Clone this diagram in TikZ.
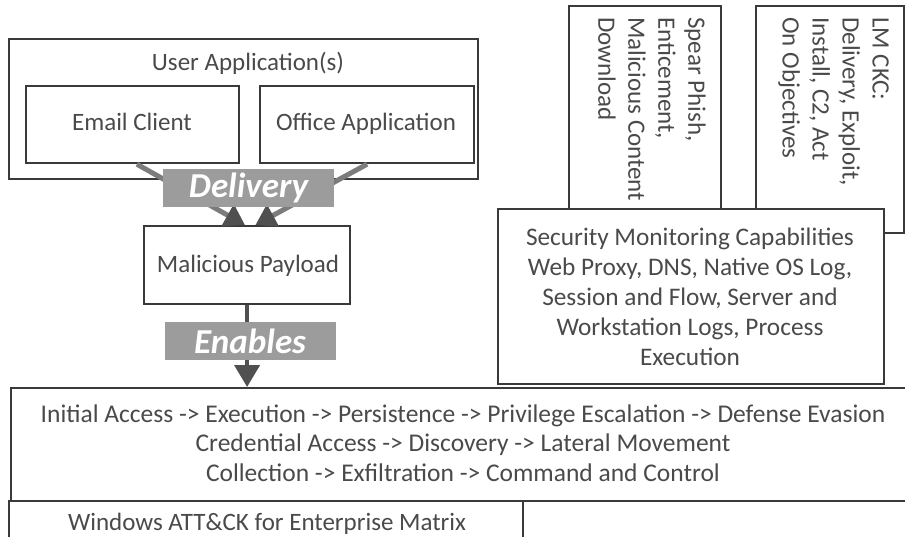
\documentclass[tikz,border=0pt]{standalone}
\usepackage{fontspec}
\setmainfont{Carlito}
\usetikzlibrary{arrows.meta,calc}
\definecolor{ink}{HTML}{4A4A4A}
\definecolor{edge}{HTML}{3A3A3A}
\definecolor{tag}{HTML}{9C9C9C}
\definecolor{shaft}{HTML}{7C7C7C}
\definecolor{head}{HTML}{505050}
\begin{document}
\begin{tikzpicture}[x=1pt,y=-1pt,
  box/.style={draw=edge, line width=2.2pt, fill=white, inner sep=0pt, anchor=north west},
  txt/.style={inner sep=0pt, text=ink, font=\fontsize{25}{30}\selectfont},
  one/.style={txt, text height=19pt, text depth=3pt},
  vtxt/.style={txt, rotate=-90, anchor=north west, align=left},
  tagbox/.style={fill=tag, inner sep=0pt, minimum width=171pt, minimum height=38pt,
    text=white, font=\fontsize{35}{38}\selectfont\bfseries\itshape},
  deliv/.style={draw=shaft, line width=5pt, -{Triangle[length=20pt,width=24pt,color=head]}},
  enab/.style={draw=head, line width=4pt, -{Triangle[length=22pt,width=25pt]}}]
\useasboundingbox (0,0) rectangle (905,537);
\fill[white] (0,0) rectangle (905,537);

% left column
\node[box, minimum width=469pt, minimum height=140pt] (user) at (8,38) {};
\node[one] (usertitle) at (248,63) {User Application(s)};
\node[box, minimum width=213pt, minimum height=77pt] (email) at (25,85) {};
\node[one] (emailtxt) at (132,123) {Email Client};
\node[box, minimum width=214pt, minimum height=77pt] (office) at (259,85) {};
\node[one] (officetxt) at (366,123) {Office Application};
\node[box, minimum width=206pt, minimum height=78pt] (payload) at (143,225) {};
\node[one] (payloadtxt) at (248,265) {Malicious Payload};

\coordinate (eS) at ($(email.south west)!0.52!(email.south east)$);
\coordinate (pL) at ($(payload.north west)!0.49!(payload.north east)$);
\coordinate (pR) at ($(payload.north west)!0.54!(payload.north east)$);
\draw[deliv] (eS) -- (pL);
\draw[deliv] (office.south) -- (pR);
\node[tagbox] (delivery) at (248.5,188) {Delivery};

% right column
\node[box, minimum width=152pt, minimum height=203pt] (spear) at (568,5) {};
\node[vtxt] (speartxt) at (706,17) {Spear Phish,\\Enticement,\\Malicious Content\\Download};
\node[box, minimum width=148pt, minimum height=227pt] (lm) at (755,5) {};
\node[vtxt] (lmtxt) at (889,17) {LM CKC:\\Delivery, Exploit,\\Install, C2, Act\\On Objectives};
\node[box, minimum width=386pt, minimum height=175pt] (sec) at (497,208) {};
\node[txt, align=center, font=\fontsize{25.3}{30}\selectfont] (sectxt) at (690,297)
  {Security Monitoring Capabilities\\Web Proxy, DNS, Native OS Log,\\Session and Flow, Server and\\Workstation Logs, Process\\Execution};

% bottom
\node[box, minimum width=906pt, minimum height=113pt] (attack) at (10,387) {};
\node[txt, align=center, font=\fontsize{25.5}{29.5}\selectfont] (attacktxt) at (463,443)
  {Initial Access -> Execution -> Persistence -> Privilege Escalation -> Defense Evasion\\Credential Access -> Discovery -> Lateral Movement\\Collection -> Exfiltration -> Command and Control};
\node[box, minimum width=514pt, minimum height=45pt] (windows) at (8,500) {};
\node[one] (windowstxt) at (267,522) {Windows ATT\&CK for Enterprise Matrix};

\draw[enab] (payload.south) -- (payload.south |- attack.north);
\node[tagbox] (enables) at (250,341) {Enables};
\end{tikzpicture}
\end{document}
